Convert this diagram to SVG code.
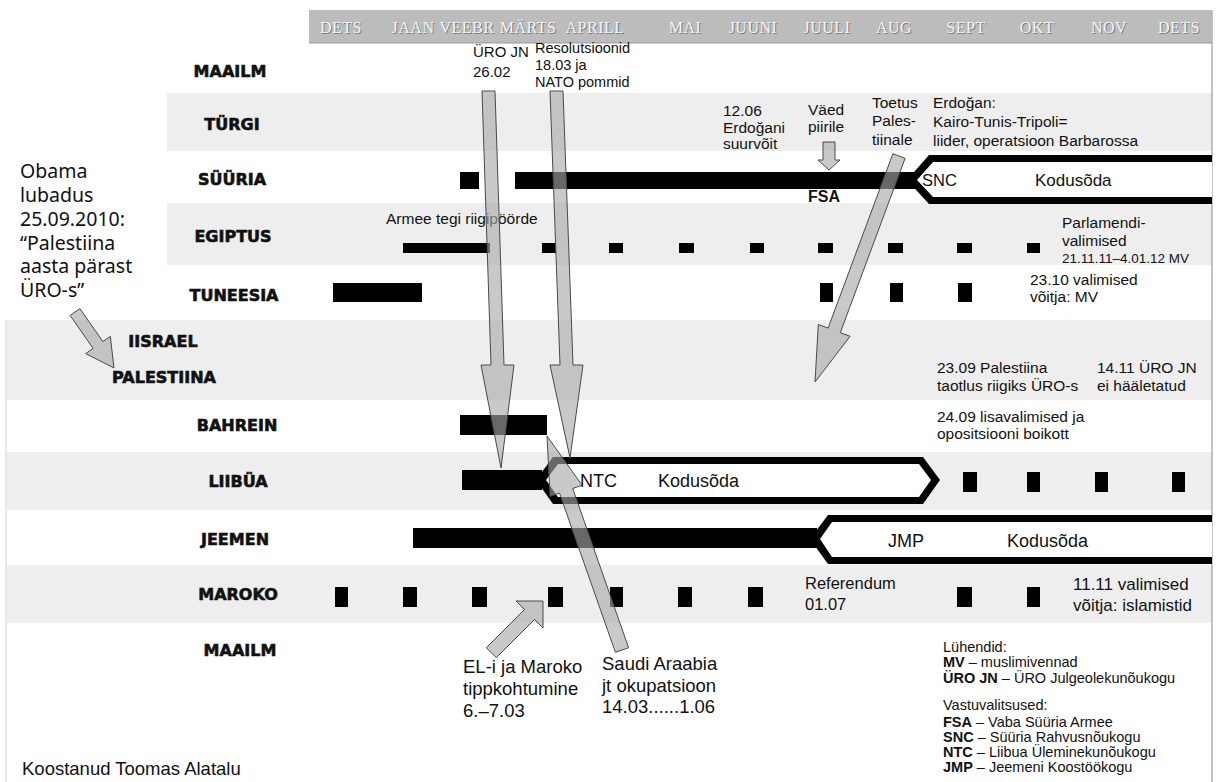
<svg xmlns="http://www.w3.org/2000/svg" width="1219" height="782" viewBox="0 0 1219 782">
<style>
.bg{fill:#ffffff}
.stripe{fill:#eeeeee}
.lbl{font-family:"DejaVu Sans",sans-serif;font-weight:bold;font-size:16px;text-anchor:middle;fill:#111;stroke:#111;stroke-width:0.6}
.t{font-family:"Liberation Sans",Arial,sans-serif;font-size:15.5px;fill:#111}
.tb{font-family:"Liberation Sans",Arial,sans-serif;font-size:16px;font-weight:bold;fill:#111}
.big{font-family:"Liberation Sans",Arial,sans-serif;font-size:18.5px;fill:#111}
.pill{font-family:"Liberation Sans",Arial,sans-serif;font-size:18px;fill:#111}
.leg{font-family:"Liberation Sans",Arial,sans-serif;font-size:14.5px;fill:#111}
.obama{font-family:"Noto Sans","DejaVu Sans",sans-serif;font-size:19.5px;fill:#111}
.mon{font-family:"Liberation Serif",serif;font-size:16px;text-anchor:middle;fill:#f6f6f6;letter-spacing:0.5px}
.mons{font-family:"Liberation Serif",serif;font-size:16px;text-anchor:middle;fill:#7a7a7a;letter-spacing:0.5px}
.bar{fill:#000}
.arrow{fill:#a8a8a8;fill-opacity:0.62;stroke:#4a4a4a;stroke-width:1;stroke-linejoin:miter}
</style>
<rect class="bg" x="0" y="0" width="1219" height="782"/>

<!-- row stripes -->
<g id="stripes">
<rect class="stripe" x="167" y="93" width="1045" height="58"/>
<rect class="stripe" x="167" y="203" width="1045" height="62"/>
<rect class="stripe" x="7" y="320" width="1205" height="80"/>
<rect class="stripe" x="7" y="452" width="1205" height="58"/>
<rect class="stripe" x="7" y="565" width="1205" height="58"/>
</g>

<!-- borders -->
<line x1="1212" y1="10" x2="1212" y2="782" stroke="#9a9a9a" stroke-width="1.2"/>
<line x1="6" y1="320" x2="6" y2="782" stroke="#d0d0d0" stroke-width="1"/>

<!-- header -->
<g id="header">
<rect x="309" y="10" width="903" height="33" fill="#bcbcbc"/>
<line x1="309" y1="43" x2="1212" y2="43" stroke="#9a9a9a" stroke-width="1"/>
<g class="mons" transform="translate(1,1)">
<text x="341" y="33">DETS</text><text x="413" y="33">JAAN</text><text x="467" y="33">VEEBR</text><text x="528" y="33">MÄRTS</text><text x="595" y="33">APRILL</text><text x="685" y="33">MAI</text><text x="753" y="33">JUUNI</text><text x="827" y="33">JUULI</text><text x="894" y="33">AUG</text><text x="966" y="33">SEPT</text><text x="1037" y="33">OKT</text><text x="1109" y="33">NOV</text><text x="1179" y="33">DETS</text>
</g>
<g class="mon">
<text x="341" y="33">DETS</text><text x="413" y="33">JAAN</text><text x="467" y="33">VEEBR</text><text x="528" y="33">MÄRTS</text><text x="595" y="33">APRILL</text><text x="685" y="33">MAI</text><text x="753" y="33">JUUNI</text><text x="827" y="33">JUULI</text><text x="894" y="33">AUG</text><text x="966" y="33">SEPT</text><text x="1037" y="33">OKT</text><text x="1109" y="33">NOV</text><text x="1179" y="33">DETS</text>
</g>
</g>

<!-- MAAILM (top) -->
<g id="row-maailm-top">
<text class="lbl" x="230" y="77">MAAILM</text>
<text class="t" x="473" y="57" style="font-size:15px">ÜRO JN</text>
<text class="t" x="473" y="77" style="font-size:15px">26.02</text>
<text class="t" x="535" y="53" style="font-size:14.5px">Resolutsioonid</text>
<text class="t" x="535" y="70" style="font-size:14.5px">18.03 ja</text>
<text class="t" x="535" y="87" style="font-size:14.5px">NATO pommid</text>
</g>

<!-- TÜRGI -->
<g id="row-turgi">
<text class="lbl" x="232" y="130">TÜRGI</text>
<text class="t" x="723" y="116">12.06</text>
<text class="t" x="723" y="133">Erdoğani</text>
<text class="t" x="723" y="149">suurvõit</text>
<text class="t" x="808" y="115">Väed</text>
<text class="t" x="808" y="132">piirile</text>
<text class="t" x="872" y="108">Toetus</text>
<text class="t" x="872" y="126">Pales-</text>
<text class="t" x="872" y="145">tiinale</text>
<text class="t" x="933" y="108">Erdoğan:</text>
<text class="t" x="933" y="127">Kairo-Tunis-Tripoli=</text>
<text class="t" x="933" y="146">liider, operatsioon Barbarossa</text>
</g>

<!-- SÜÜRIA -->
<g id="row-syyria">
<text class="lbl" x="232" y="185">SÜÜRIA</text>
<rect class="bar" x="460" y="172" width="19" height="17"/>
<rect class="bar" x="515" y="172" width="400" height="17"/>
<polygon fill="#000" points="907,180 929,155 1212,155 1212,204 929,204"/>
<polygon fill="#fff" points="917,180 933,162 1212,162 1212,197 933,197"/>
<text class="tb" x="808" y="202">FSA</text>
<text class="t" x="922" y="186" style="font-size:16.5px">SNC</text>
<text class="t" x="1035" y="186" style="font-size:17px">Kodusõda</text>
</g>

<!-- EGIPTUS -->
<g id="row-egiptus">
<text class="lbl" x="233" y="242">EGIPTUS</text>
<text class="t" x="386" y="224">Armee tegi riigipöörde</text>
<rect class="bar" x="403" y="243" width="87" height="10"/>
<rect class="bar" x="542" y="243" width="14" height="10"/>
<rect class="bar" x="609" y="243" width="14" height="10"/>
<rect class="bar" x="679" y="243" width="15" height="10"/>
<rect class="bar" x="750" y="243" width="14" height="10"/>
<rect class="bar" x="818" y="243" width="15" height="10"/>
<rect class="bar" x="888" y="243" width="15" height="10"/>
<rect class="bar" x="957" y="243" width="15" height="10"/>
<rect class="bar" x="1027" y="243" width="13" height="10"/>
<text class="t" x="1062" y="228">Parlamendi-</text>
<text class="t" x="1062" y="246">valimised</text>
<text class="t" x="1062" y="263" style="font-size:13.5px">21.11.11–4.01.12 MV</text>
</g>

<!-- TUNEESIA -->
<g id="row-tuneesia">
<text class="lbl" x="234" y="301">TUNEESIA</text>
<rect class="bar" x="333" y="283" width="89" height="19"/>
<rect class="bar" x="820" y="283" width="13" height="19"/>
<rect class="bar" x="890" y="283" width="13" height="19"/>
<rect class="bar" x="958" y="283" width="14" height="19"/>
<text class="t" x="1030" y="285">23.10 valimised</text>
<text class="t" x="1030" y="302">võitja: MV</text>
</g>

<!-- IISRAEL / PALESTIINA -->
<g id="row-iisrael-palestiina">
<text class="lbl" x="163" y="347">IISRAEL</text>
<text class="lbl" x="164" y="383">PALESTIINA</text>
<text class="t" x="937" y="373">23.09 Palestiina</text>
<text class="t" x="937" y="391">taotlus riigiks ÜRO-s</text>
<text class="t" x="1097" y="373">14.11 ÜRO JN</text>
<text class="t" x="1097" y="391">ei hääletatud</text>
</g>

<!-- Obama note -->
<g id="note-obama">
<text class="obama" x="20" y="178">Obama</text>
<text class="obama" x="20" y="202">lubadus</text>
<text class="obama" x="20" y="226">25.09.2010:</text>
<text class="obama" x="20" y="250">“Palestiina</text>
<text class="obama" x="20" y="273">aasta pärast</text>
<text class="obama" x="20" y="297">ÜRO-s”</text>
</g>

<!-- BAHREIN -->
<g id="row-bahrein">
<text class="lbl" x="237" y="431">BAHREIN</text>
<rect class="bar" x="460" y="415" width="87" height="20"/>
<text class="t" x="937" y="422">24.09 lisavalimised ja</text>
<text class="t" x="937" y="439">opositsiooni boikott</text>
</g>

<!-- LIIBÜA -->
<g id="row-liibya">
<text class="lbl" x="238" y="487">LIIBÜA</text>
<rect class="bar" x="462" y="470" width="80" height="20"/>
<polygon fill="#000" points="536,480 553,457 923,457 940,480 923,504 553,504"/>
<polygon fill="#fff" points="546,480 558,464 919,464 931,480 919,497 558,497"/>
<text class="pill" x="580" y="487">NTC</text>
<text class="pill" x="658" y="487">Kodusõda</text>
<rect class="bar" x="963" y="472" width="14" height="20"/>
<rect class="bar" x="1027" y="472" width="13" height="20"/>
<rect class="bar" x="1095" y="472" width="13" height="20"/>
<rect class="bar" x="1172" y="472" width="13" height="20"/>
</g>

<!-- JEEMEN -->
<g id="row-jeemen">
<text class="lbl" x="235" y="545">JEEMEN</text>
<rect class="bar" x="413" y="528" width="404" height="20"/>
<polygon fill="#000" points="810,539 828,515 1212,515 1212,564 828,564"/>
<polygon fill="#fff" points="820,539 832,522 1212,522 1212,557 832,557"/>
<text class="pill" x="888" y="547">JMP</text>
<text class="pill" x="1007" y="547">Kodusõda</text>
</g>

<!-- MAROKO -->
<g id="row-maroko">
<text class="lbl" x="238" y="600">MAROKO</text>
<rect class="bar" x="335" y="587" width="13" height="20"/>
<rect class="bar" x="403" y="587" width="14" height="20"/>
<rect class="bar" x="472" y="587" width="15" height="20"/>
<rect class="bar" x="548" y="587" width="15" height="20"/>
<rect class="bar" x="610" y="587" width="13" height="20"/>
<rect class="bar" x="678" y="587" width="14" height="20"/>
<rect class="bar" x="748" y="587" width="15" height="20"/>
<rect class="bar" x="957" y="587" width="15" height="20"/>
<rect class="bar" x="1027" y="587" width="13" height="20"/>
<text class="t" x="805" y="589" style="font-size:16.5px">Referendum</text>
<text class="t" x="805" y="610" style="font-size:16.5px">01.07</text>
<text class="t" x="1073" y="590" style="font-size:17px">11.11 valimised</text>
<text class="t" x="1073" y="611" style="font-size:17px">võitja: islamistid</text>
</g>

<!-- MAAILM (bottom) -->
<g id="row-maailm-bottom">
<text class="lbl" x="240" y="656">MAAILM</text>
<text class="big" x="463" y="673">EL-i ja Maroko</text>
<text class="big" x="463" y="695">tippkohtumine</text>
<text class="big" x="463" y="717">6.–7.03</text>
<text class="big" x="602" y="670">Saudi Araabia</text>
<text class="big" x="602" y="692">jt okupatsioon</text>
<text class="big" x="602" y="713">14.03......1.06</text>
</g>

<!-- legend -->
<g id="legend">
<text class="leg" x="943" y="652">Lühendid:</text>
<text class="leg" x="943" y="667"><tspan font-weight="bold">MV</tspan> – muslimivennad</text>
<text class="leg" x="943" y="683"><tspan font-weight="bold">ÜRO JN</tspan> – ÜRO Julgeolekunõukogu</text>
<text class="leg" x="943" y="710">Vastuvalitsused:</text>
<text class="leg" x="943" y="727"><tspan font-weight="bold">FSA</tspan> – Vaba Süüria Armee</text>
<text class="leg" x="943" y="742"><tspan font-weight="bold">SNC</tspan> – Süüria Rahvusnõukogu</text>
<text class="leg" x="943" y="757"><tspan font-weight="bold">NTC</tspan> – Liibua Üleminekunõukogu</text>
<text class="leg" x="943" y="772"><tspan font-weight="bold">JMP</tspan> – Jeemeni Koostöökogu</text>
</g>

<g id="credit">
<text class="big" x="22" y="775">Koostanud Toomas Alatalu</text>
</g>

<!-- connectors -->
<g id="connectors">
<polygon class="arrow" points="482,91 491,365 481,365 501,468 514,365 504,365 495,91"/>
<polygon class="arrow" points="550,91 560,365 550,365 570,458 583,365 573,365 563,91"/>
<polygon class="arrow" points="628.6,647.7 572.7,488.5 582.1,485.2 547,436 550.1,496.4 559.5,493.1 615.4,652.3"/>
<polygon class="arrow" points="486.3,647.7 524.5,609.5 516,601 543,601 543,628 534.5,619.5 496.3,657.7"/>
<polygon class="arrow" points="79.9,308.6 102.9,341.6 110.3,336.4 114,368 85.7,353.6 93.1,348.4 70.1,315.4"/>
<polygon class="arrow" points="905.1,158.3 840.3,332.7 850.1,336.3 815,382 818.3,324.5 828.1,328.1 892.9,153.7"/>
<polygon class="arrow" points="823,142 823,160 818,160 829,170 840,160 835,160 835,142"/>
</g>
</svg>
